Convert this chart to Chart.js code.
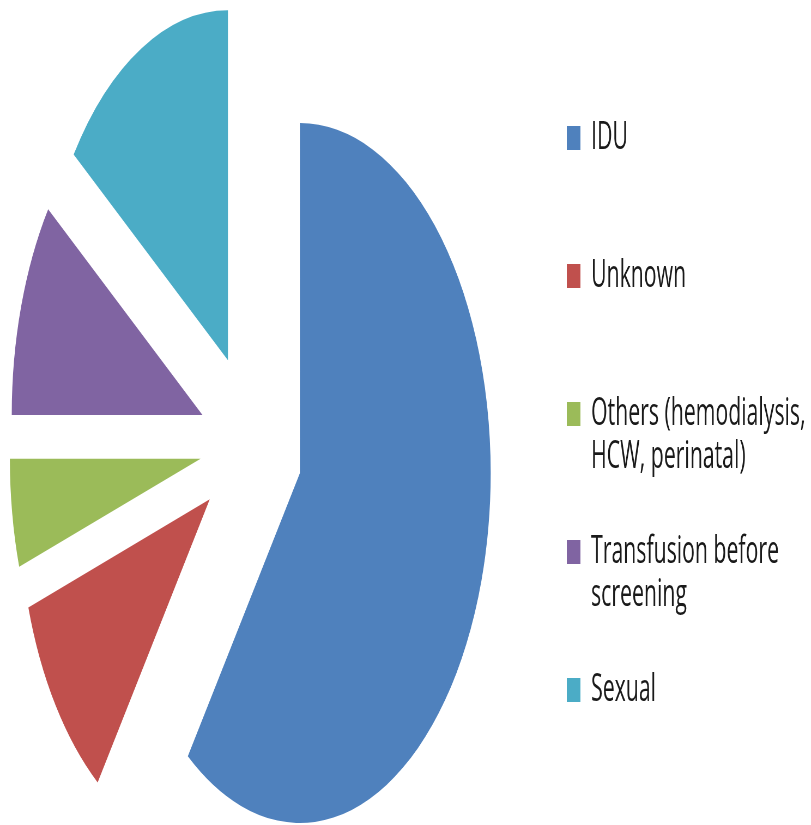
<!DOCTYPE html>
<html>
<head>
<meta charset="utf-8">
<script src="https://cdn.jsdelivr.net/npm/chart.js@4/dist/chart.umd.min.js"></script>
<style>
  html, body { margin: 0; padding: 0; background: #fff; overflow: hidden; width: 811px; height: 825px; }
  /* the chart is drawn wide and narrowed horizontally into an elliptical pie */
  #stage { width: 1488px; height: 825px; transform: scaleX(0.545); transform-origin: 0 0; }
</style>
</head>
<body>
<div id="stage"><canvas id="chart" width="1488" height="825"></canvas></div>
<script>
// Routes of transmission
const categories = ['IDU', 'Unknown', 'Others (hemodialysis, HCW, perinatal)', 'Transfusion before screening', 'Sexual'];
const legendLines = [['IDU'], ['Unknown'], ['Others (hemodialysis,', 'HCW, perinatal)'], ['Transfusion before', 'screening'], ['Sexual']];
const shares = [60, 10, 5, 10, 15];
const colors = ['#4F81BD', '#C0504D', '#9BBB59', '#8064A2', '#4BACC6'];

// Pull every slice outward along its bisector (exploded pie);
// shiftX nudges the whole pie towards the left edge of the plot area
const explodePlugin = {
  id: 'explode',
  beforeDatasetsDraw(chart, args, opts) {
    const area = chart.chartArea;
    const cx = (area.left + area.right) / 2 + (opts.shiftX || 0);
    const cy = (area.top + area.bottom) / 2;
    chart.getDatasetMeta(0).data.forEach(arc => {
      const mid = (arc.startAngle + arc.endAngle) / 2;
      arc.x = cx + Math.cos(mid) * opts.distance;
      arc.y = cy + Math.sin(mid) * opts.distance;
    });
  }
};

new Chart(document.getElementById('chart'), {
  type: 'pie',
  data: {
    labels: categories,
    datasets: [{
      data: shares,
      backgroundColor: colors,
      borderWidth: 0
    }]
  },
  options: {
    responsive: false,
    animation: false,
    events: [],
    radius: 350,
    layout: { padding: { top: 66.3, bottom: 3.3, left: 0, right: 0 } },
    plugins: {
      explode: { distance: 94, shiftX: -33 },
      tooltip: { enabled: false },
      legend: {
        position: 'right',
        align: 'start',
        labels: {
          padding: 52.2,
          boxWidth: 25,
          boxHeight: 24,
          color: '#1a1a1a',
          font: { family: "'Open Sans', 'DejaVu Sans', sans-serif", size: 39, lineHeight: 1.1 },
          generateLabels(chart) {
            const ds = chart.data.datasets[0];
            return chart.data.labels.map((label, i) => {
              const lines = legendLines[i].slice();
              while (lines.length < 2) lines.push('');
              return {
                text: lines,
                fillStyle: ds.backgroundColor[i],
                strokeStyle: ds.backgroundColor[i],
                lineWidth: 0,
                hidden: false,
                index: i,
                fontColor: '#1a1a1a'
              };
            });
          }
        }
      }
    }
  },
  plugins: [explodePlugin]
});
</script>
</body>
</html>
